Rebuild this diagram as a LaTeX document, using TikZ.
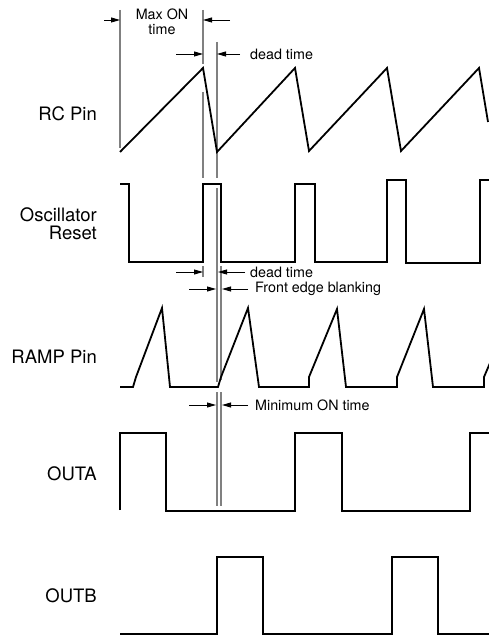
\documentclass[tikz,border=0pt]{standalone}
\usepackage{fontspec}
\setmainfont{TeX Gyre Heros}
\usetikzlibrary{arrows.meta,calc,positioning}

\begin{document}
\begin{tikzpicture}[x=1pt,y=-1pt,>={Triangle[length=9pt,width=5pt]},
    wave/.style={line width=1.8pt,line join=miter},
    guide/.style={black!50,line width=1.2pt},
    dim/.style={->,line width=0.8pt},
    sig/.style={anchor=east,inner sep=0pt,align=right,
      font=\fontsize{18.5}{18}\selectfont},
    note/.style={anchor=west,inner sep=0pt,font=\fontsize{14.3}{15}\selectfont}]
  \useasboundingbox (0,0) rectangle (488,636);

  % signal names
  \node[sig] (rc) at (97,113.5) {RC Pin};
  \node[sig] (osc) at (97,224) {Oscillator\\Reset};
  \node[sig] (ramp) at (97,356.5) {RAMP Pin};
  \node[sig] (outa) at (97,473.5) {OUTA};
  \node[sig] (outb) at (97,596) {OUTB};

  % timing marks
  \coordinate (m0) at (120,0);
  \coordinate (m1) at (203,0);
  \coordinate (m2) at (217,0);
  \coordinate (m3) at (221,0);
  \draw[guide] ($(m0)+(0,10)$) -- ($(m0)+(0,148)$);
  \draw[guide] ($(m1)+(0,10)$) -- ($(m1)+(0,64)$);
  \draw[guide] ($(m1)+(0,92)$) -- ($(m1)+(0,178)$);
  \draw[guide] ($(m1)+(0,266)$) -- ($(m1)+(0,277)$);
  \draw[guide] ($(m2)+(0,42)$) -- ($(m2)+(0,178)$);
  \draw[guide] ($(m2)+(0,188)$) -- ($(m2)+(0,382)$);
  \draw[guide] ($(m2)+(0,392)$) -- ($(m2)+(0,506)$);
  \draw[guide] ($(m3)+(0,266)$) -- ($(m3)+(0,380)$);
  \draw[guide] ($(m3)+(0,392)$) -- ($(m3)+(0,506)$);

  % RC Pin
  \draw[wave] (120,152) -- (203,68) -- (217,152) -- (295,68) -- (309,151)
    -- (387,68) -- (401,151) -- (479,68) -- (488,122);

  % Oscillator Reset
  \draw[wave] (120,184) -- (129,184) -- (129,262) -- (203,262) -- (203,184)
    -- (221,184) -- (221,262) -- (295,262) -- (295,184) -- (315,184)
    -- (315,262) -- (387,262) -- (387,180) -- (406,180) -- (406,263)
    -- (480,263) -- (480,180) -- (490,180);

  % RAMP Pin
  \draw[wave] (120,387) -- (133,387) -- (136,377) -- (162,308) -- (170,387)
    -- (218,387) -- (221,377) -- (248,308) -- (259,387) -- (309,387)
    -- (309,377) -- (337,309) -- (346,387) -- (397,387) -- (397,377)
    -- (424,309) -- (433,387) -- (484,387) -- (484,377) -- (490,363);

  % OUTA
  \draw[wave] (120,510) -- (120,433) -- (166,433) -- (166,511) -- (295,511)
    -- (295,433) -- (342,433) -- (342,511) -- (470,511) -- (470,433)
    -- (490,433);

  % OUTB
  \draw[wave] (120,634) -- (217,634) -- (217,557) -- (263,557) -- (263,634)
    -- (392,634) -- (392,557) -- (438,557) -- (438,634) -- (490,634);

  % Max ON time
  \node[align=center,inner sep=0pt,font=\fontsize{14.3}{15}\selectfont]
    (maxon) at (162,22) {Max ON\\time};
  \draw[dim] ($(m0)+(-16,20)$) -- ($(m0)+(0,20)$);
  \draw[dim] ($(m1)+(27,20)$) -- ($(m1)+(0,20)$);

  % dead time at RC Pin
  \node[note] (dt1) at (250,54) {dead time};
  \draw[dim] ($(m1)+(-27,54)$) -- ($(m1)+(0,54)$);
  \draw[dim] ($(m2)+(23,54)$) -- ($(m2)+(0,54)$);

  % dead time at Oscillator Reset
  \node[note] (dt2) at (250,272) {dead time};
  \draw[dim] ($(m1)+(-27,272)$) -- ($(m1)+(0,272)$);
  \draw[dim] ($(m2)+(28,272)$) -- ($(m2)+(1,272)$);

  % Front edge blanking
  \node[note] (feb) at (255,289) {Front edge blanking};
  \draw[dim] ($(m2)+(-28,289)$) -- ($(m2)+(-1,289)$);
  \draw[dim] ($(m3)+(27,289)$) -- ($(m3)+(1,289)$);

  % Minimum ON time
  \node[note] (minon) at (255,405) {Minimum ON time};
  \draw[dim] ($(m2)+(-28,405)$) -- ($(m2)+(-1,405)$);
  \draw[dim] ($(m3)+(27,405)$) -- ($(m3)+(1,405)$);
\end{tikzpicture}
\end{document}
